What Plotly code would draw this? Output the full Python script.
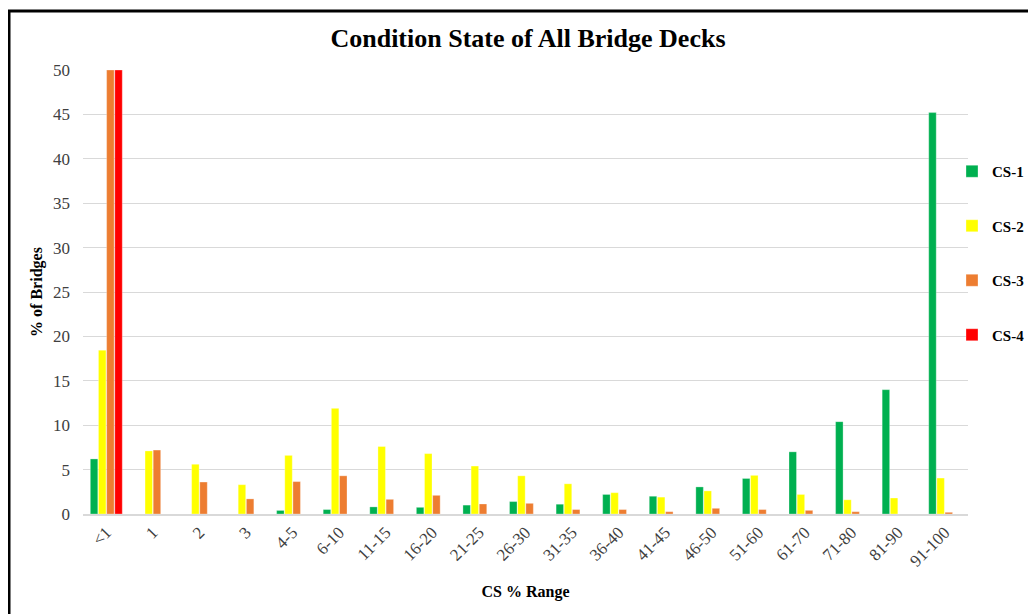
import plotly.graph_objects as go

categories = ["<1", "1", "2", "3", "4-5", "6-10", "11-15", "16-20", "21-25", "26-30",
              "31-35", "36-40", "41-45", "46-50", "51-60", "61-70", "71-80", "81-90", "91-100"]
cs1 = [6.2, 0, 0, 0, 0.4, 0.5, 0.8, 0.75, 1.0, 1.4, 1.1, 2.2, 2.0, 3.05, 4.0, 7.0, 10.4, 14.0, 45.2]
cs2 = [18.45, 7.1, 5.6, 3.3, 6.6, 11.9, 7.6, 6.8, 5.4, 4.3, 3.4, 2.4, 1.9, 2.6, 4.35, 2.2, 1.6, 1.8, 4.05]
cs3 = [50, 7.2, 3.6, 1.7, 3.65, 4.3, 1.65, 2.1, 1.13, 1.2, 0.5, 0.5, 0.26, 0.64, 0.5, 0.41, 0.26, 0, 0.19]
cs4 = [50, 0, 0, 0, 0, 0, 0, 0, 0, 0, 0, 0, 0, 0, 0, 0, 0, 0, 0]

series_names = ["CS-1", "CS-2", "CS-3", "CS-4"]
series_values = [cs1, cs2, cs3, cs4]
series_colors = ["#00B050", "#FFFF00", "#ED7D31", "#FF0000"]

FONT = "Liberation Serif"

fig = go.Figure()
for i, (name, vals, col) in enumerate(zip(series_names, series_values, series_colors)):
    fig.add_trace(go.Bar(
        x=categories, y=vals, name="<b>" + name + "</b>", legendgroup=name,
        marker=dict(color=col, line=dict(color="rgba(255,255,255,0.6)", width=0.5)),
    ))

# page has an 8px body margin; coordinates below are in figure pixels
OFF = 8
W, H = 1036, 614
L = 83 - OFF
T = 70 - OFF
R = W - (968 - OFF)
B = H - (514 - OFF)
pw = W - L - R
ph = H - T - B

def px_x(sx):
    return (sx - OFF - L) / pw

def px_y(sy):
    return (H - B - (sy - OFF)) / ph

fig.update_layout(
    width=W, height=H,
    margin=dict(l=L, r=R, t=T, b=B, autoexpand=False),
    paper_bgcolor="white", plot_bgcolor="white",
    barmode="group", bargap=0.3, bargroupgap=0.08,
    font=dict(family=FONT, color="#404040", size=17),
    title=dict(text="<b>Condition State of All Bridge Decks</b>",
               x=(528 - OFF) / W, xanchor="center", y=1 - (38 - OFF) / H, yanchor="middle",
               font=dict(family=FONT, size=26, color="black")),
    legend=dict(x=px_x(952), xanchor="left", y=px_y(155), yanchor="top",
                font=dict(family=FONT, size=15, color="black"),
                tracegroupgap=32, itemwidth=30, bgcolor="rgba(0,0,0,0)"),
    xaxis=dict(
        tickangle=-45, tickfont=dict(family=FONT, size=17, color="#404040"),
        showline=True, linecolor="#d9d9d9", linewidth=1.5, ticks="",
        title=dict(text="<b>CS % Range</b>", font=dict(family=FONT, size=16, color="black"),
                   standoff=16),
    ),
    yaxis=dict(
        range=[0, 50], dtick=5, tick0=0,
        showgrid=True, gridcolor="#d9d9d9", gridwidth=1,
        zeroline=False, showline=False, ticks="",
        tickfont=dict(family=FONT, size=17, color="#404040"),
        ticklabelstandoff=12,
        title=dict(text="<b>% of Bridges</b>", font=dict(family=FONT, size=16, color="black"),
                   standoff=6),
    ),
    shapes=[dict(type="rect", xref="paper", yref="paper",
                 x0=px_x(OFF + 1), x1=px_x(1100), y0=px_y(700), y1=px_y(11),
                 line=dict(color="black", width=3), fillcolor="rgba(0,0,0,0)", layer="above")],
)

fig.write_html("out.html")
